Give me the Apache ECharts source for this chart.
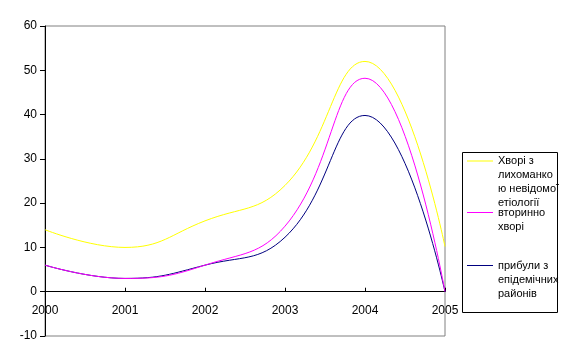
<!DOCTYPE html>
<html>
<head>
<meta charset="utf-8">
<script src="https://cdn.jsdelivr.net/npm/echarts@6/dist/echarts.min.js"></script>
<style>
  html, body { margin: 0; padding: 0; background: #fff; }
  #chart { width: 565px; height: 353px; }
</style>
</head>
<body>
<div id="chart"></div>
<script>
  var years = ['2000', '2001', '2002', '2003', '2004', '2005'];
  var yTicks = [-10, 0, 10, 20, 30, 40, 50, 60];

  // хворі з лихоманкою невідомої етіології
  var unknownFever = [14, 10, 16, 24, 52, 10.2];
  // вторинно хворі
  var secondary = [6, 3, 6, 14.8, 48.2, 0];
  // прибули з епідемічних районів
  var arrived = [6, 3, 6, 12.3, 39.8, 0];

  var names = [
    'Хворі з\nлихоманко\nю невідомої\nетіології',
    'вторинно\nхворі',
    'прибули з\nепідемічних\nрайонів'
  ];

  var font = 'Liberation Sans, Arial, sans-serif';

  // one legend per series; blank lines on top put the line next to the first text row
  function legendItem(name, top) {
    var lines = name.split('\n').length;
    var pad = new Array(lines).join('\n');
    return {
      orient: 'vertical',
      left: 467,
      top: top,
      padding: 0,
      icon: 'rect',
      itemWidth: 26,
      itemHeight: 1,
      itemGap: 0,
      selectedMode: false,
      data: [name],
      formatter: function (n) { return pad + n; },
      textStyle: { fontFamily: font, fontSize: 11, color: '#000', lineHeight: 14 }
    };
  }

  var chart = echarts.init(document.getElementById('chart'));
  chart.setOption({
    animation: false,
    backgroundColor: '#fff',
    grid: {
      left: 45, right: 120, top: 26, bottom: 17,
      show: true, borderColor: '#808080', borderWidth: 1
    },
    legend: [
      legendItem(names[0], 112),
      legendItem(names[1], 191.5),
      legendItem(names[2], 230.5)
    ],
    graphic: [{
      type: 'rect',
      shape: { x: 462.5, y: 152.5, width: 95, height: 160 },
      style: { fill: null, stroke: '#000', lineWidth: 1 },
      silent: true
    }],
    xAxis: {
      type: 'category',
      data: years,
      boundaryGap: false,
      axisLine: { onZero: true, lineStyle: { color: '#000', width: 1 } },
      axisTick: { inside: true, length: 4, lineStyle: { color: '#000' } },
      axisLabel: { fontFamily: font, fontSize: 12, color: '#000', margin: -31 },
      splitLine: { show: false }
    },
    yAxis: {
      type: 'value',
      min: yTicks[0],
      max: yTicks[yTicks.length - 1],
      interval: 10,
      axisLine: { show: true, onZero: false, lineStyle: { color: '#000', width: 1 } },
      axisTick: { show: true, length: 5, lineStyle: { color: '#000' } },
      axisLabel: { fontFamily: font, fontSize: 12, color: '#000', margin: 8 },
      splitLine: { show: false }
    },
    series: [
      {
        name: names[0], type: 'line', data: unknownFever, smooth: 0.45,
        symbol: 'none', z: 2, color: '#FFFF00',
        lineStyle: { color: '#FFFF00', width: 1 }
      },
      {
        name: names[1], type: 'line', data: secondary, smooth: 0.45,
        symbol: 'none', z: 4, color: '#FF00FF',
        lineStyle: { color: '#FF00FF', width: 1 }
      },
      {
        name: names[2], type: 'line', data: arrived, smooth: 0.45,
        symbol: 'none', z: 3, color: '#000080',
        lineStyle: { color: '#000080', width: 1 }
      }
    ]
  });
</script>
</body>
</html>
